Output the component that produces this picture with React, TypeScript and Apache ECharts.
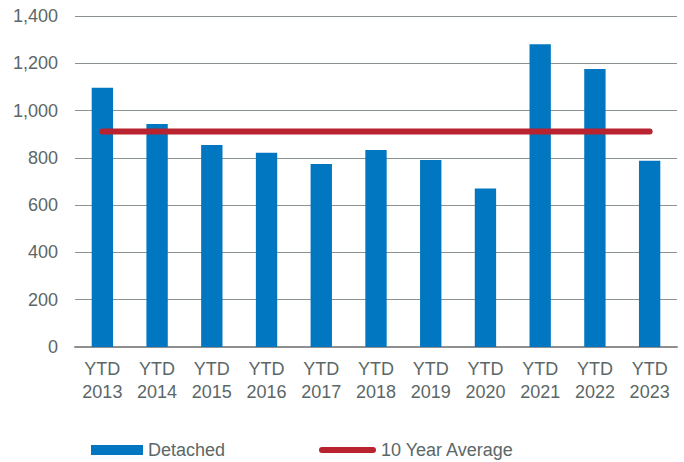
import React, { useEffect, useRef } from "react";
import * as echarts from "echarts";

const categories = [
  "YTD\n2013", "YTD\n2014", "YTD\n2015", "YTD\n2016", "YTD\n2017", "YTD\n2018",
  "YTD\n2019", "YTD\n2020", "YTD\n2021", "YTD\n2022", "YTD\n2023",
];
const detached = [1097, 943, 854, 822, 774, 833, 791, 670, 1280, 1176, 788];
const tenYearAverage = [912, 912, 912, 912, 912, 912, 912, 912, 912, 912, 912];
const yTicks = { min: 0, max: 1400, interval: 200 };

const FONT = "'Liberation Sans', Arial, sans-serif";
const TEXT = "#5b6767";
const RED = "#b8232f";

export default function App() {
  const ref = useRef<HTMLDivElement>(null);
  useEffect(() => {
    document.body.style.margin = "0";
    const chart = echarts.init(ref.current!, null, { renderer: "svg" });
    chart.setOption({
      animation: false,
      grid: { left: 75, right: 7, top: 16, bottom: 115 },
      legend: [
        {
          data: [{ name: "Detached", icon: "rect" }],
          left: 91,
          top: 441,
          padding: 0,
          itemWidth: 52,
          itemHeight: 10,
          textStyle: { fontFamily: FONT, fontSize: 18, color: TEXT },
        },
        {
          data: [
            {
              name: "10 Year Average",
              icon: "path://M3,0 L54,0 A3,3 0 0 1 54,6 L3,6 A3,3 0 0 1 3,0 Z",
              itemStyle: { color: RED },
            },
          ],
          left: 319,
          top: 441,
          padding: 0,
          itemWidth: 57,
          itemHeight: 6,
          textStyle: { fontFamily: FONT, fontSize: 18, color: TEXT },
        },
      ],
      xAxis: {
        type: "category",
        data: categories,
        axisTick: { show: false },
        axisLine: { lineStyle: { color: "#8f8f8f", width: 2 } },
        axisLabel: {
          fontFamily: FONT,
          fontSize: 18,
          color: TEXT,
          lineHeight: 23,
          margin: 10,
          interval: 0,
        },
      },
      yAxis: {
        type: "value",
        min: yTicks.min,
        max: yTicks.max,
        interval: yTicks.interval,
        axisLine: { show: false },
        axisTick: { show: false },
        splitLine: { lineStyle: { color: "#8a9391", width: 1 } },
        axisLabel: {
          fontFamily: FONT,
          fontSize: 18,
          color: TEXT,
          margin: 17,
          formatter: (v: number) => v.toLocaleString("en-US"),
        },
      },
      series: [
        {
          name: "Detached",
          type: "bar",
          data: detached,
          barWidth: "39%",
          itemStyle: { color: "#0077c0" },
        },
        {
          name: "10 Year Average",
          type: "line",
          data: tenYearAverage,
          symbol: "none",
          z: 5,
          lineStyle: { color: RED, width: 6, cap: "round" },
          itemStyle: { color: RED },
        },
      ],
    });
    return () => chart.dispose();
  }, []);
  return (
    <div
      ref={ref}
      style={{ position: "absolute", left: 0, top: 0, width: 684, height: 462 }}
    />
  );
}
